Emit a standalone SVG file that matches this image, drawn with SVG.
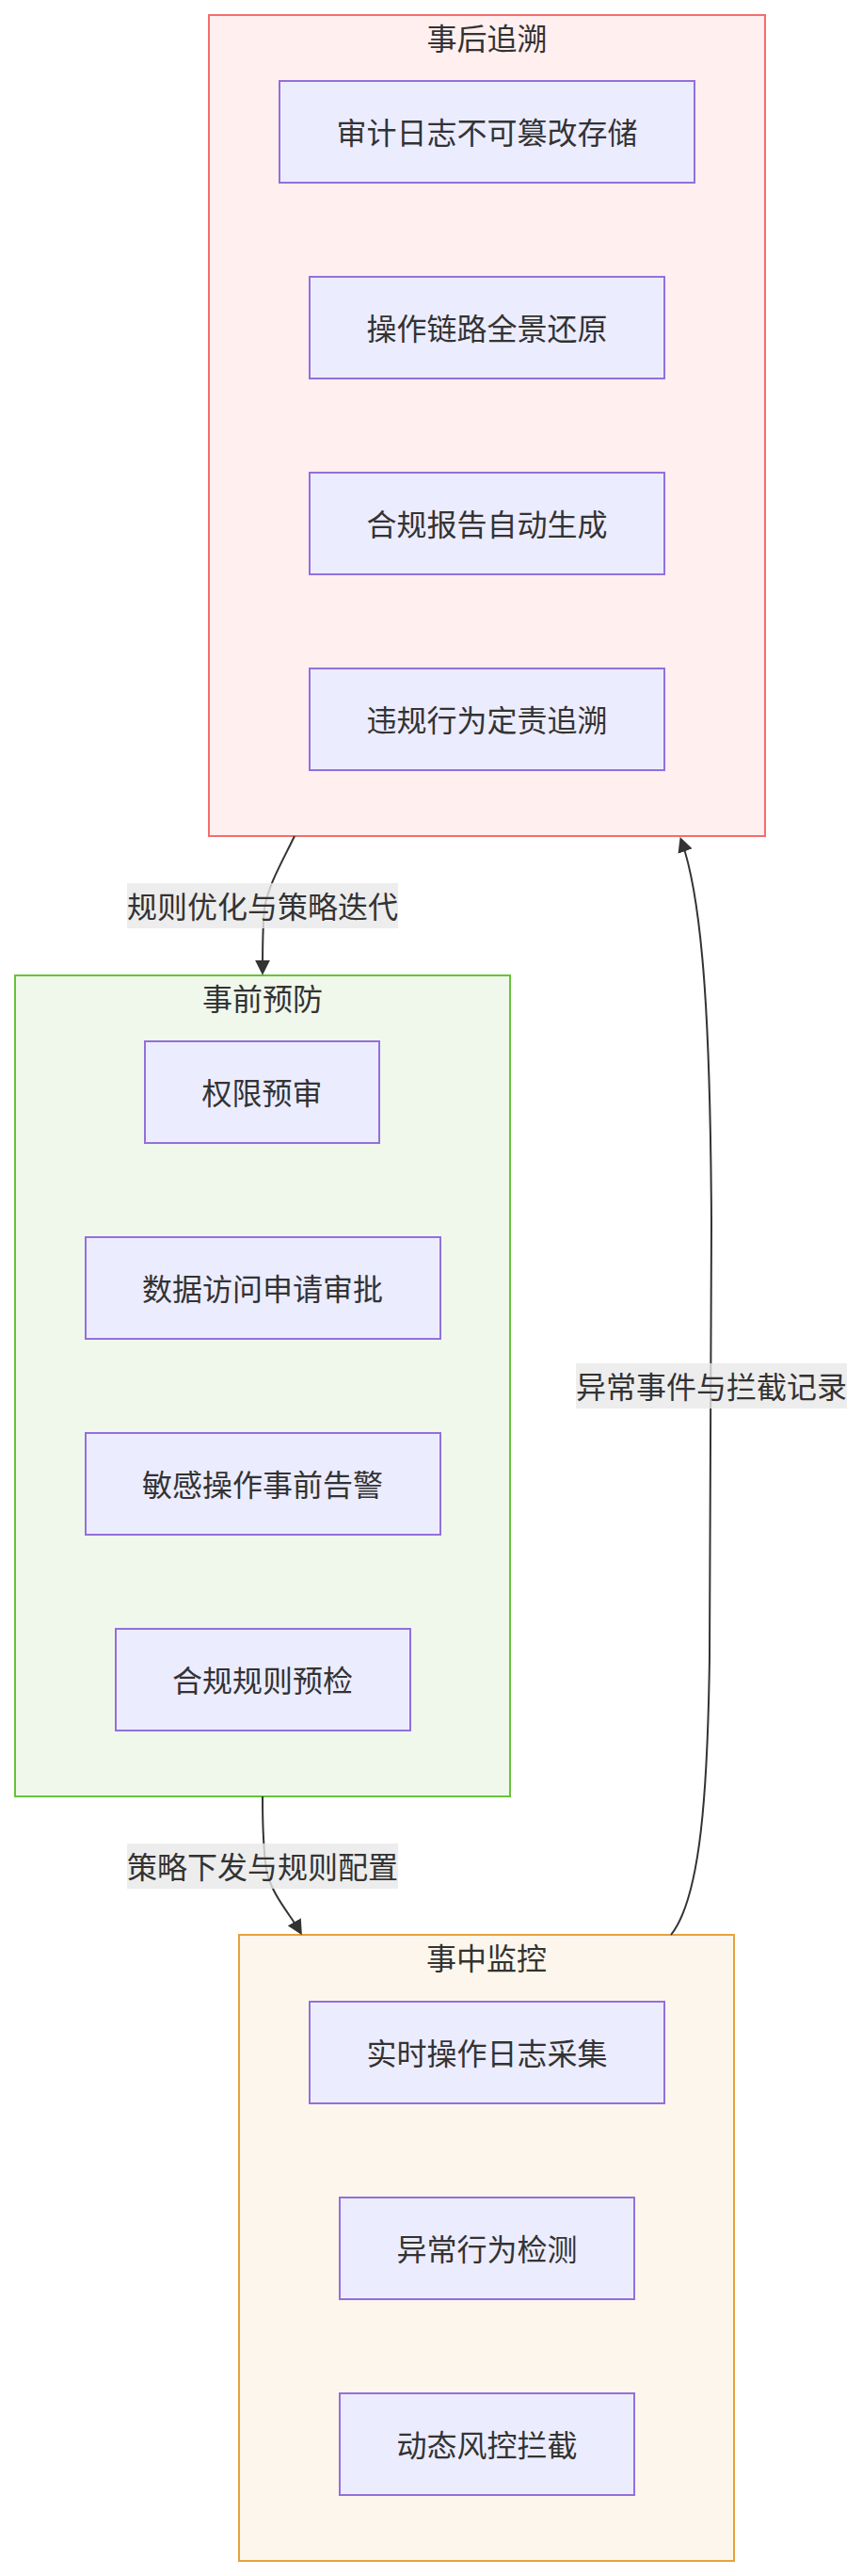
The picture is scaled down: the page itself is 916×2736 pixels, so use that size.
<svg xmlns="http://www.w3.org/2000/svg" width="916" height="2736" viewBox="0 0 916 2736">
<style>
text{font-family:"Noto Sans CJK SC","Noto Sans",sans-serif;font-size:32px;fill:#333;text-anchor:middle}
.node rect{fill:#ECECFF;stroke:#9370DB;stroke-width:2}
.c-red{fill:#FFEFEF;stroke:#F56C6C;stroke-width:2}
.c-green{fill:#F0F8EC;stroke:#67C23A;stroke-width:2}
.c-orange{fill:#FDF6EC;stroke:#E6A23C;stroke-width:2}
.edge{fill:none;stroke:#333;stroke-width:2;marker-end:url(#arrow)}
.lbl{fill:rgba(232,232,232,0.8)}
</style>
<defs>
<marker id="arrow" viewBox="0 0 10 10" refX="7" refY="5" markerWidth="16" markerHeight="16" markerUnits="userSpaceOnUse" orient="auto">
<path d="M0,0 L10,5 L0,10 z" fill="#333"/>
</marker>
</defs>
<rect width="916" height="2736" fill="#ffffff"/>
<g id="cluster-after">
<rect class="c-red" x="222" y="16" width="591" height="872"/>
<text x="517.5" y="52.5">事后追溯</text>
</g>
<g id="cluster-before">
<rect class="c-green" x="16" y="1036" width="526" height="872"/>
<text x="279" y="1072.5">事前预防</text>
</g>
<g id="cluster-during">
<rect class="c-orange" x="254" y="2055" width="526" height="665"/>
<text x="517" y="2091.5">事中监控</text>
</g>
<g id="node-a1" class="node"><rect x="297" y="86" width="441" height="108"/><text x="517.5" y="152.5">审计日志不可篡改存储</text></g>
<g id="node-a2" class="node"><rect x="329" y="294" width="377" height="108"/><text x="517.5" y="360.5">操作链路全景还原</text></g>
<g id="node-a3" class="node"><rect x="329" y="502" width="377" height="108"/><text x="517.5" y="568.5">合规报告自动生成</text></g>
<g id="node-a4" class="node"><rect x="329" y="710" width="377" height="108"/><text x="517.5" y="776.5">违规行为定责追溯</text></g>
<g id="node-b1" class="node"><rect x="154" y="1106" width="249" height="108"/><text x="278.5" y="1172.5">权限预审</text></g>
<g id="node-b2" class="node"><rect x="91" y="1314" width="377" height="108"/><text x="279" y="1380.5">数据访问申请审批</text></g>
<g id="node-b3" class="node"><rect x="91" y="1522" width="377" height="108"/><text x="279" y="1588.5">敏感操作事前告警</text></g>
<g id="node-b4" class="node"><rect x="123" y="1730" width="313" height="108"/><text x="279" y="1796.5">合规规则预检</text></g>
<g id="node-c1" class="node"><rect x="329" y="2126" width="377" height="108"/><text x="517.5" y="2192.5">实时操作日志采集</text></g>
<g id="node-c2" class="node"><rect x="361" y="2334" width="313" height="108"/><text x="517.5" y="2400.5">异常行为检测</text></g>
<g id="node-c3" class="node"><rect x="361" y="2542" width="313" height="108"/><text x="517.5" y="2608.5">动态风控拦截</text></g>
<g id="connectors">
<path class="edge" d="M313,888 C300,915 285,940 281,965 C279,985 279,1005 279,1031"/>
<path class="edge" d="M279,1908 C279,1940 280,1965 283,1985 C287,2010 308,2033 318.5,2051"/>
<path class="edge" d="M713,2055 C745,2015 752,1900 754,1760 L756,1300 C755,1100 748,960 724.3,893.5"/>
<g id="label-1"><rect class="lbl" x="135" y="938" width="288" height="48"/><text x="279" y="974.5">规则优化与策略迭代</text></g>
<g id="label-2"><rect class="lbl" x="135" y="1958" width="288" height="48"/><text x="279" y="1994.5">策略下发与规则配置</text></g>
<g id="label-3"><rect class="lbl" x="612" y="1448" width="288" height="48"/><text x="756" y="1484.5">异常事件与拦截记录</text></g>
</g>
</svg>
